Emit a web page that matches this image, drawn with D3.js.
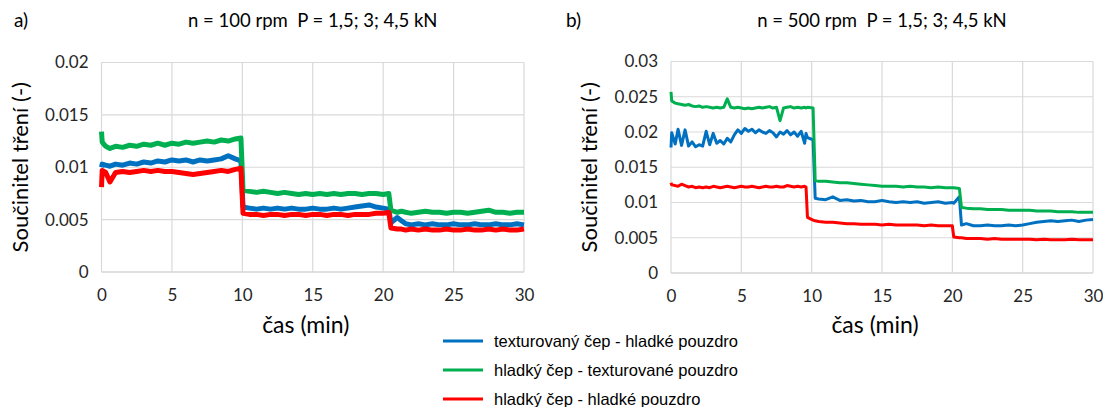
<!DOCTYPE html>
<html>
<head>
<meta charset="utf-8">
<script src="https://cdn.jsdelivr.net/npm/d3@7"></script>
<style>
  body { margin: 0; background: #fff; }
  svg { display: block; }
</style>
</head>
<body>
<div id="chart"></div>
<script>
// series names (legend order) and colours
var seriesNames = ["texturovaný čep - hladké pouzdro", "hladký čep - texturované pouzdro", "hladký čep - hladké pouzdro"]
var seriesColors = ["#0070C0", "#00B050", "#FF0000"]

// ---- panel a) n = 100 rpm ----
var timeA = [0, 0.05, 0.3, 0.6, 1, 1.5, 2, 2.5, 3, 3.5, 4, 4.5, 5, 5.5, 6, 6.5, 7, 7.5, 8, 8.5, 9, 9.5, 9.9,
  10.05, 10.5, 11, 11.5, 12, 12.5, 13, 13.5, 14, 14.5, 15, 15.5, 16, 16.5, 17, 17.5, 18, 18.5, 19, 19.5, 20, 20.4,
  20.55, 21, 21.3, 21.6, 22, 22.5, 23, 23.5, 24, 24.5, 25, 25.5, 26, 26.5, 27, 27.5, 28, 28.5, 29, 29.5, 30]
var blueA = [0.0100, 0.0103, 0.0102, 0.0101, 0.0103, 0.0102, 0.0104, 0.0103, 0.0105, 0.0104, 0.0106, 0.0105, 0.0107, 0.0106, 0.0107, 0.0105, 0.0107, 0.0106, 0.0107, 0.0108, 0.0111, 0.0108, 0.0106,
  0.0062, 0.0061, 0.0060, 0.0061, 0.0060, 0.0061, 0.0060, 0.0061, 0.0060, 0.0060, 0.0061, 0.0060, 0.0060, 0.0061, 0.0060, 0.0061, 0.0062, 0.0063, 0.0064, 0.0062, 0.0061, 0.0060,
  0.0047, 0.0052, 0.0049, 0.0046, 0.0045, 0.0046, 0.0045, 0.0046, 0.0045, 0.0045, 0.0046, 0.0045, 0.0045, 0.0046, 0.0045, 0.0045, 0.0046, 0.0045, 0.0045, 0.0046, 0.0045]
var greenA = [0.0134, 0.0124, 0.0120, 0.0118, 0.0120, 0.0119, 0.0121, 0.0120, 0.0122, 0.0121, 0.0123, 0.0121, 0.0123, 0.0122, 0.0124, 0.0123, 0.0124, 0.0125, 0.0124, 0.0126, 0.0125, 0.0127, 0.0128,
  0.0078, 0.0077, 0.0076, 0.0077, 0.0076, 0.0075, 0.0076, 0.0075, 0.0074, 0.0075, 0.0074, 0.0075, 0.0074, 0.0075, 0.0074, 0.0075, 0.0075, 0.0074, 0.0075, 0.0075, 0.0074, 0.0075,
  0.0059, 0.0057, 0.0058, 0.0057, 0.0056, 0.0057, 0.0058, 0.0057, 0.0057, 0.0056, 0.0057, 0.0057, 0.0056, 0.0057, 0.0058, 0.0059, 0.0057, 0.0057, 0.0056, 0.0057, 0.0057]
var redA = [0.0081, 0.0097, 0.0095, 0.0086, 0.0095, 0.0096, 0.0095, 0.0096, 0.0097, 0.0096, 0.0097, 0.0096, 0.0096, 0.0095, 0.0094, 0.0093, 0.0094, 0.0095, 0.0096, 0.0097, 0.0096, 0.0098, 0.0099,
  0.0056, 0.0055, 0.0055, 0.0054, 0.0055, 0.0055, 0.0054, 0.0055, 0.0055, 0.0054, 0.0055, 0.0055, 0.0054, 0.0055, 0.0055, 0.0054, 0.0055, 0.0055, 0.0055, 0.0056, 0.0056, 0.0057,
  0.0042, 0.0041, 0.0041, 0.0040, 0.0041, 0.0040, 0.0041, 0.0040, 0.0040, 0.0041, 0.0040, 0.0040, 0.0041, 0.0040, 0.0040, 0.0041, 0.0040, 0.0041, 0.0040, 0.0040, 0.0041]

// ---- panel b) n = 500 rpm ----
var timeB = [0, 0.05, 0.3, 0.5, 0.75, 1, 1.25, 1.5, 1.75, 2, 2.25, 2.5, 2.75, 3, 3.25, 3.5, 3.75, 4, 4.25, 4.5, 4.75,
  5, 5.25, 5.5, 5.75, 6, 6.25, 6.5, 6.75, 7, 7.25, 7.5, 7.75, 8, 8.25, 8.5, 8.75, 9, 9.25, 9.5, 9.6, 9.7, 10.1, 10.25,
  10.5, 11, 11.5, 12, 12.5, 13, 13.5, 14, 14.5, 15, 15.5, 16, 16.5, 17, 17.5, 18, 18.5, 19, 19.5, 20, 20.1, 20.5, 20.65,
  21, 21.5, 22, 22.5, 23, 23.5, 24, 24.5, 25, 25.5, 26, 26.5, 27, 27.5, 28, 28.5, 29, 29.5, 30]
var blueB = [0.0178, 0.0199, 0.0183, 0.0204, 0.0181, 0.0203, 0.0180, 0.0186, 0.0179, 0.0182, 0.0180, 0.0201, 0.0182, 0.0198, 0.0184, 0.0188, 0.0183, 0.0191, 0.0186, 0.0196, 0.0203,
  0.0198, 0.0205, 0.0201, 0.0204, 0.0199, 0.0203, 0.0200, 0.0198, 0.0202, 0.0199, 0.0193, 0.0200, 0.0197, 0.0202, 0.0196, 0.0200, 0.0194, 0.0201, 0.0184, 0.0198, 0.0192, 0.0189, 0.0106,
  0.0105, 0.0104, 0.0108, 0.0103, 0.0104, 0.0102, 0.0103, 0.0101, 0.0101, 0.0103, 0.0101, 0.0100, 0.0101, 0.0100, 0.0101, 0.0099, 0.0100, 0.0101, 0.0099, 0.0100, 0.0099, 0.0108, 0.0068,
  0.0070, 0.0067, 0.0067, 0.0068, 0.0067, 0.0067, 0.0068, 0.0067, 0.0068, 0.0070, 0.0072, 0.0073, 0.0074, 0.0073, 0.0074, 0.0075, 0.0073, 0.0075, 0.0076]
var greenB = [0.0257, 0.0244, 0.0241, 0.0240, 0.0239, 0.0238, 0.0239, 0.0237, 0.0236, 0.0237, 0.0235, 0.0236, 0.0235, 0.0234, 0.0235, 0.0234, 0.0235, 0.0247, 0.0235, 0.0234, 0.0235,
  0.0234, 0.0233, 0.0234, 0.0233, 0.0234, 0.0235, 0.0234, 0.0235, 0.0236, 0.0234, 0.0235, 0.0216, 0.0234, 0.0235, 0.0236, 0.0234, 0.0235, 0.0234, 0.0235, 0.0234, 0.0235, 0.0234, 0.0131,
  0.0130, 0.0130, 0.0129, 0.0128, 0.0128, 0.0127, 0.0126, 0.0125, 0.0124, 0.0123, 0.0123, 0.0123, 0.0122, 0.0123, 0.0122, 0.0122, 0.0121, 0.0122, 0.0121, 0.0121, 0.0121, 0.0120, 0.0093,
  0.0092, 0.0091, 0.0091, 0.0090, 0.0090, 0.0090, 0.0089, 0.0089, 0.0089, 0.0089, 0.0088, 0.0088, 0.0088, 0.0087, 0.0087, 0.0087, 0.0086, 0.0086, 0.0086]
var redB = [0.0128, 0.0125, 0.0124, 0.0123, 0.0126, 0.0124, 0.0122, 0.0123, 0.0121, 0.0122, 0.0121, 0.0122, 0.0121, 0.0123, 0.0122, 0.0121, 0.0122, 0.0123, 0.0122, 0.0121, 0.0122,
  0.0123, 0.0122, 0.0122, 0.0123, 0.0122, 0.0121, 0.0122, 0.0123, 0.0122, 0.0122, 0.0123, 0.0122, 0.0122, 0.0124, 0.0123, 0.0122, 0.0123, 0.0122, 0.0123, 0.0122, 0.0079, 0.0075, 0.0074,
  0.0073, 0.0072, 0.0072, 0.0071, 0.0070, 0.0070, 0.0069, 0.0069, 0.0069, 0.0068, 0.0069, 0.0068, 0.0068, 0.0068, 0.0068, 0.0067, 0.0068, 0.0067, 0.0067, 0.0067, 0.0051, 0.0050, 0.0050,
  0.0049, 0.0049, 0.0049, 0.0048, 0.0049, 0.0048, 0.0048, 0.0048, 0.0048, 0.0048, 0.0047, 0.0048, 0.0047, 0.0047, 0.0047, 0.0048, 0.0047, 0.0047, 0.0047]

var xTicks = [0, 5, 10, 15, 20, 25, 30]
var yTicksA = [0, 0.005, 0.01, 0.015, 0.02]
var yTicksB = [0, 0.005, 0.01, 0.015, 0.02, 0.025, 0.03]

var W = 1103, H = 407
var svg = d3.select("#chart").append("svg")
  .attr("width", W).attr("height", H)

var drawPanel = function(p){
  var x = d3.scaleLinear().domain([0, 30]).range([p.left, p.right])
  var y = d3.scaleLinear().domain([0, p.yMax]).range([p.bottom, p.top])
  var g = svg.append("g")

  // gridlines
  g.append("g").selectAll("line.h").data(p.yTicks).enter().append("line")
    .attr("x1", p.left).attr("x2", p.right)
    .attr("y1", function(d){ return y(d) }).attr("y2", function(d){ return y(d) })
    .attr("stroke", function(d){ return d === 0 ? "#bfbfbf" : "#d9d9d9" })
    .attr("stroke-width", 1.2)
  g.append("g").selectAll("line.v").data(xTicks).enter().append("line")
    .attr("x1", function(d){ return x(d) }).attr("x2", function(d){ return x(d) })
    .attr("y1", p.top).attr("y2", p.bottom)
    .attr("stroke", "#d9d9d9")
    .attr("stroke-width", 1.2)

  // tick labels through d3 axes, domain and tick lines hidden
  g.append("g")
    .attr("transform", "translate(" + p.left + ",0)")
    .call(d3.axisLeft(y).tickValues(p.yTicks).tickSize(0).tickPadding(13).tickFormat(function(d){ return String(+d.toFixed(3)) }))
  g.append("g")
    .attr("transform", "translate(0," + p.bottom + ")")
    .call(d3.axisBottom(x).tickValues(xTicks).tickSize(0).tickPadding(17).tickFormat(d3.format("d")))
  g.selectAll(".domain").remove()
  g.selectAll(".tick text")
    .style("font-family", "Lato, 'Open Sans', sans-serif")
    .style("font-size", "17px")
    .attr("fill", "#262626")

  // series lines
  var line = d3.line()
    .x(function(d){ return x(d[0]) })
    .y(function(d){ return y(d[1]) })
  p.series.forEach(function(s, i){
    g.append("path")
      .datum(p.time.map(function(t, k){ return [t, s[k]] }))
      .attr("fill", "none")
      .attr("stroke", seriesColors[i])
      .attr("stroke-width", p.lineWidth)
      .attr("stroke-linejoin", "round")
      .attr("d", line)
  })

  // titles
  g.append("text").attr("x", p.labelX).attr("y", 27).text(p.label)
    .style("font-family", "Lato, sans-serif").style("font-size", "19px").attr("fill", "#000")
  g.append("text").attr("x", (p.left + p.right) / 2).attr("y", 27).attr("text-anchor", "middle").text(p.title)
    .style("white-space", "pre")
    .style("font-family", "Lato, sans-serif").style("font-size", "18.5px").attr("fill", "#000")
  g.append("text")
    .attr("transform", "translate(" + p.yTitleX + "," + ((p.top + p.bottom) / 2) + ") rotate(-90)")
    .attr("text-anchor", "middle").attr("dy", "0.35em")
    .text("Součinitel tření (-)")
    .style("font-family", "Lato, sans-serif").style("font-size", "22px").attr("fill", "#000")
  g.append("text")
    .attr("x", (p.left + p.right) / 2 - 7).attr("y", 333).attr("text-anchor", "middle")
    .text("čas (min)")
    .style("font-family", "Lato, sans-serif").style("font-size", "23px").attr("fill", "#000")
}

drawPanel({left: 101.5, right: 524, top: 62.5, bottom: 272, yMax: 0.02, yTicks: yTicksA,
  time: timeA, series: [blueA, greenA, redA], lineWidth: 5,
  label: "a)", labelX: 14, title: "n = 100 rpm  P = 1,5; 3; 4,5 kN", yTitleX: 20})
drawPanel({left: 671, right: 1093, top: 61.5, bottom: 273, yMax: 0.03, yTicks: yTicksB,
  time: timeB, series: [blueB, greenB, redB], lineWidth: 3,
  label: "b)", labelX: 566, title: "n = 500 rpm  P = 1,5; 3; 4,5 kN", yTitleX: 589})

// legend
var legend = svg.append("g")
seriesNames.forEach(function(name, i){
  var ly = 341 + i * 29
  legend.append("line")
    .attr("x1", 443).attr("x2", 483).attr("y1", ly).attr("y2", ly)
    .attr("stroke", seriesColors[i]).attr("stroke-width", 3)
  legend.append("text")
    .attr("x", 494).attr("y", ly).attr("dy", "0.35em")
    .text(name)
    .style("font-family", "'Liberation Sans', Arial, sans-serif").style("font-size", "16.5px").attr("fill", "#000")
})
</script>
</body>
</html>
